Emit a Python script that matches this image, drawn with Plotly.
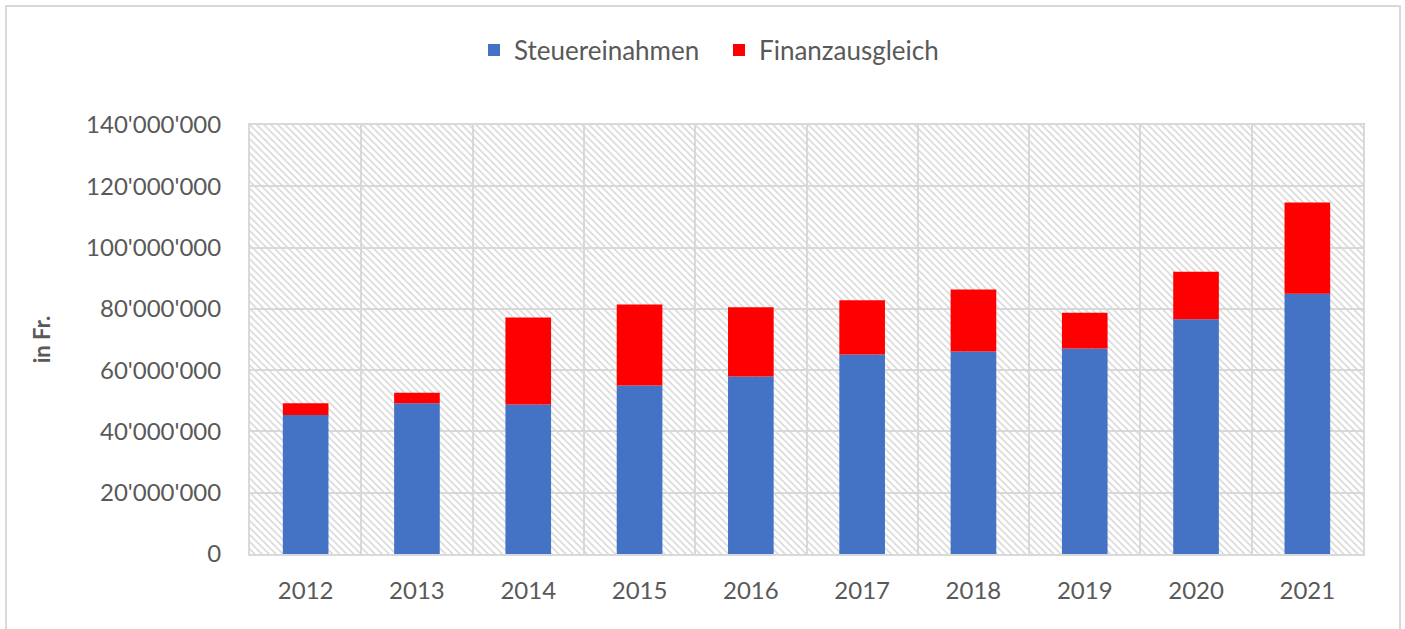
import plotly.graph_objects as go

years = ["2012", "2013", "2014", "2015", "2016", "2017", "2018", "2019", "2020", "2021"]
steuereinahmen = [45.4e6, 49.2e6, 48.8e6, 55.0e6, 57.9e6, 65.1e6, 66.1e6, 67.1e6, 76.6e6, 84.9e6]
finanzausgleich = [3.8e6, 3.4e6, 28.4e6, 26.4e6, 22.6e6, 17.7e6, 20.2e6, 11.6e6, 15.5e6, 29.8e6]
y_ticks = [0, 20e6, 40e6, 60e6, 80e6, 100e6, 120e6, 140e6]

W, H = 1405, 629
ml, mr, mt, mb = 250, 42, 125, 75
font_fam = "Lato, Open Sans, sans-serif"
txt = "#595959"
grid = "#d9d9d9"
ymax = y_ticks[-1]

fig = go.Figure()

# hatched plot background (full-height bars spanning each category slot)
fig.add_trace(go.Bar(
    x=years, y=[ymax] * len(years), width=[1] * len(years),
    marker=dict(color="rgba(0,0,0,0)", line=dict(width=0),
                pattern=dict(shape="\\", size=5, solidity=0.3,
                             fgcolor="#d6d6d6", bgcolor="rgba(0,0,0,0)", fillmode="replace")),
    showlegend=False, hoverinfo="skip"))

fig.add_trace(go.Bar(x=years, y=steuereinahmen, name="Steuereinahmen", width=0.41,
                     marker=dict(color="#4472c4", line=dict(width=0))))
fig.add_trace(go.Bar(x=years, y=finanzausgleich, base=steuereinahmen, name="Finanzausgleich",
                     width=0.41, marker=dict(color="#ff0000", line=dict(width=0))))

pw = W - ml - mr
ph = H - mt - mb
fig.add_shape(type="rect", xref="paper", yref="paper",
              x0=(6 - ml) / pw, x1=(1400 - ml) / pw,
              y0=-(H + 10 - mt - ph) / ph, y1=1 + (mt - 6) / ph,
              line=dict(color="#d9d9d9", width=2), fillcolor="rgba(0,0,0,0)", layer="below")

fig.update_layout(
    width=W, height=H,
    margin=dict(l=ml, r=mr, t=mt, b=mb, autoexpand=False),
    barmode="overlay",
    paper_bgcolor="white", plot_bgcolor="white",
    separators=".'",
    font=dict(family=font_fam, color=txt, size=24),
    legend=dict(orientation="h", x=(474 - ml) / pw, xanchor="left", y=1 + (mt - 50) / ph,
                yanchor="middle", font=dict(size=26, color=txt), itemwidth=30,
                entrywidth=200, entrywidthmode="pixels", traceorder="normal"),
    xaxis=dict(type="category", tickson="boundaries", showgrid=True, gridcolor=grid, gridwidth=2,
               showline=True, linecolor=grid, linewidth=2, mirror=True, ticks="",
               tickfont=dict(size=24, color=txt), ticklabelstandoff=14),
    yaxis=dict(range=[0, ymax], tickvals=y_ticks, tickformat=",d", showgrid=True,
               gridcolor=grid, gridwidth=2, showline=True, linecolor=grid, linewidth=2,
               mirror=True, ticks="", zeroline=False, tickfont=dict(size=24, color=txt),
               ticklabelstandoff=22,
               title=dict(text="<b>in Fr.</b>", font=dict(size=22, color=txt), standoff=29)),
)

fig.write_html("out.html", config={"displayModeBar": False},
               post_script="document.body.style.margin='0';")
